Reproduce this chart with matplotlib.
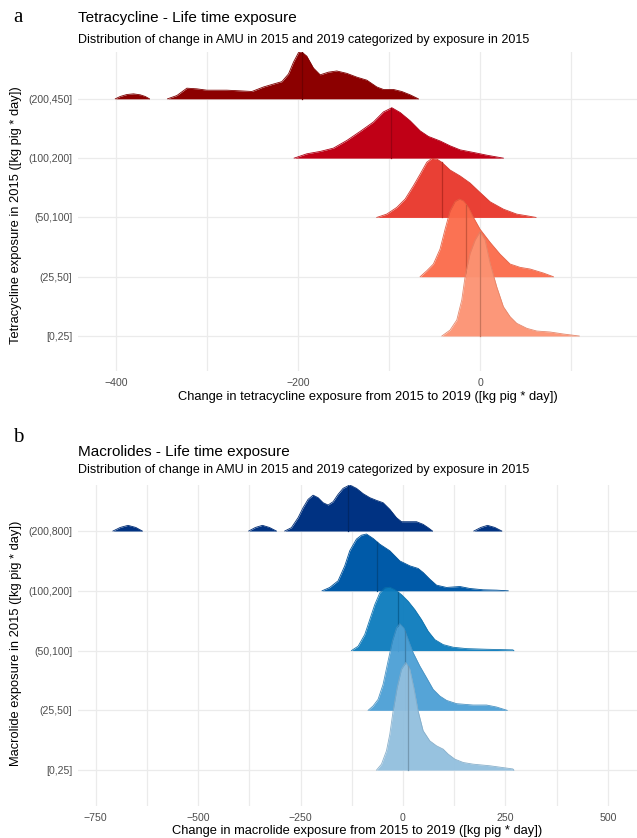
import numpy as np
import matplotlib
matplotlib.use("Agg")
import matplotlib.pyplot as plt
from matplotlib.ticker import FixedLocator

plt.rcParams['font.family'] = ['Liberation Sans', 'DejaVu Sans']

# ---------------- data: panel a (tetracycline) ----------------
tet_categories = ["[0,25]", "(25,50]", "(50,100]", "(100,200]", "(200,450]"]
tet_colors = ["#fc9272", "#fb6a4a", "#e8362a", "#c00016", "#8c0000"]

# ridge outlines: x = change, h = scaled density (NaN separates pieces)
tet_x_0_25 = [-42, -33, -25.6, -20.1, -16.5, -11, -5.5, 0, 5.5, 11, 18.3, 25.6, 33, 40.3, 51.3, 62.3, 76.9, 91.5, 109]
tet_h_0_25 = [0, .10, .27, .61, 1.0, 1.395, 1.62, 1.76, 1.62, 1.23, .83, .495, .326, .214, .13, .084, .068, .034, 0]
tet_x_25_50 = [-65.9, -58.6, -51.3, -44, -38.5, -33, -27.5, -22.7, -18.3, -12.8, -7.3, 0, 11, 22, 33, 44, 55, 69.6, 80.6]
tet_h_25_50 = [0, .10, .214, .467, .80, 1.11, 1.27, 1.31, 1.28, 1.17, 1.0, .80, .58, .38, .214, .158, .13, .062, 0]
tet_x_50_100 = [-113.6, -102.6, -91.6, -82.4, -73.3, -65.9, -58.6, -53.1, -47.6, -42.1, -33, -22, -11, 0, 11, 25.6, 40.3, 51.3, 61.5]
tet_h_50_100 = [0, .056, .169, .31, .534, .73, .93, .996, .985, .93, .80, .70, .58, .42, .264, .14, .056, .028, 0]
tet_x_100_200 = [-204.4, -190.5, -175.8, -161.2, -146.5, -131.9, -117.2, -106.2, -97, -87.9, -76.9, -65.9, -56.8, -44, -33, -22, -7.3, 7.3, 25.6]
tet_h_100_200 = [0, .073, .113, .169, .298, .45, .61, .78, .85, .77, .63, .46, .366, .29, .208, .14, .096, .05, 0]
tet_x_200_450 = [-401, -395.6, -388.3, -381, -373.6, -368.1, -363.4, np.nan,
                 -343.6, -333.3, -322.3, -311.4, -300.4, -278.4, -263.7, -250.9, -238.1, -227.1, -217.9,
                 -210.6, -205.1, -199.6, -196, -190.5, -183.2, -175.8, -166.7, -157.5, -146.5, -135.5,
                 -124.5, -113.5, -106.2, -95.2, -86.1, -76.9, -67.8]
tet_h_200_450 = [0, .04, .073, .084, .068, .04, 0, np.nan,
                 0, .056, .18, .169, .146, .146, .135, .124, .2, .25, .29,
                 .42, .62, .78, .79, .72, .52, .405, .45, .47, .43, .366,
                 .315, .2, .158, .158, .124, .068, 0]
tet_medians = [0, -15, -42, -98, -196]
tet_xticks = [-400, -200, 0]

# ---------------- data: panel b (macrolides) ----------------
mac_categories = ["[0,25]", "(25,50]", "(50,100]", "(100,200]", "(200,800]"]
mac_colors = ["#92bfde", "#4c9fd5", "#0b7bbd", "#005aa8", "#003282"]

mac_x_0_25 = [-64.7, -52.5, -40.3, -32.2, -24.1, -14.3, -3.7, 6.8, 16.6, 26.4, 36.9, 49.1, 65.4, 81.7, 98, 110.2, 126.5, 146.8, 171.1, 211.9, 268, 270.5]
mac_h_0_25 = [0, .10, .324, .60, .99, 1.38, 1.69, 1.80, 1.69, 1.38, .99, .66, .49, .407, .351, .268, .184, .128, .10, .073, .02, 0]
mac_x_25_50 = [-85.1, -73, -60.8, -48.6, -36.4, -25.8, -15.9, -7.8, 1.9, 12.5, 24.7, 41, 57.4, 73.6, 89.8, 106.2, 130.6, 171.1, 203.9, 228.3, 254.2]
mac_h_25_50 = [0, .073, .184, .435, .826, 1.16, 1.38, 1.45, 1.38, 1.19, .965, .742, .547, .351, .24, .167, .112, .089, .089, .056, 0]
mac_x_50_100 = [-125.8, -109.5, -93.3, -81, -68.8, -56.6, -44.4, -32.2, -20, -3.7, 12.5, 28.8, 45.1, 61.4, 77.6, 98, 122.4, 155, 203.9, 268, 270.5]
mac_h_50_100 = [0, .073, .268, .52, .77, .965, 1.05, 1.06, 1.02, .937, .826, .686, .519, .324, .184, .10, .056, .033, .022, .012, 0]
mac_x_100_200 = [-197.4, -178.7, -158.4, -142.1, -129.9, -113.6, -101.4, -89.2, -72.9, -56.6, -32.2, -7.8, 16.6, 36.9, 49.1, 65.4, 81.7, 106.2, 138.7, 163.1, 195.6, 228.2, 256.7]
mac_h_100_200 = [0, .056, .167, .418, .67, .865, .93, .95, .876, .78, .67, .50, .418, .374, .307, .195, .095, .056, .072, .039, .017, .011, 0]
mac_x_200_800 = [-707.7, -690, -671, -652, -636, np.nan,
                 -376.5, -360, -343, -326, -308.9, np.nan,
                 -288.6, -272.3, -256, -243.8, -231.6, -219.4, -207.2, -195, -182.8, -170.6, -158.4, -146.2,
                 -130, -113.5, -97.3, -81, -64.7, -48.6, -32.2, -15.9, -3.7, 33, 49.1, 61.3, 72, np.nan,
                 172.9, 190, 206.2, 224, 241.2]
mac_h_200_800 = [0, .06, .095, .06, 0, np.nan,
                 0, .06, .095, .06, 0, np.nan,
                 0, .056, .223, .39, .53, .60, .558, .474, .435, .49, .614, .714,
                 .77, .714, .625, .558, .513, .474, .363, .223, .156, .156, .112, .056, 0, np.nan,
                 0, .06, .095, .06, 0]
mac_medians = [12.5, 4.4, -12, -63, -134]
mac_xticks = [-750, -500, -250, 0, 250, 500]

tet_series = [(tet_x_0_25, tet_h_0_25), (tet_x_25_50, tet_h_25_50), (tet_x_50_100, tet_h_50_100),
              (tet_x_100_200, tet_h_100_200), (tet_x_200_450, tet_h_200_450)]
mac_series = [(mac_x_0_25, mac_h_0_25), (mac_x_25_50, mac_h_25_50), (mac_x_50_100, mac_h_50_100),
              (mac_x_100_200, mac_h_100_200), (mac_x_200_800, mac_h_200_800)]


def darker(c, f=0.8):
    r, g, b = matplotlib.colors.to_rgb(c)
    return (r * f, g * f, b * f)


def pieces(x, h):
    x = np.asarray(x, float)
    h = np.asarray(h, float)
    out, cur = [], []
    for xi, hi in zip(x, h):
        if np.isnan(xi):
            if cur:
                out.append(np.array(cur))
            cur = []
        else:
            cur.append((xi, hi))
    if cur:
        out.append(np.array(cur))
    return out


def draw_panel(ax, series, colors, medians, cats, xticks, minor, xlim, ylim, alpha):
    ax.set_xlim(*xlim)
    ax.set_ylim(*ylim)
    for s in ax.spines.values():
        s.set_visible(False)
    ax.set_yticks(range(1, len(cats) + 1))
    ax.set_yticklabels(cats)
    ax.xaxis.set_major_locator(FixedLocator(xticks))
    ax.xaxis.set_minor_locator(FixedLocator(minor))
    ax.tick_params(axis='both', which='both', length=0, labelsize=7.6, colors='#4d4d4d')
    ax.tick_params(axis='y', pad=4)
    ax.tick_params(axis='x', pad=5)
    ax.grid(True, which='major', color='#ebebeb', linewidth=0.9)
    ax.grid(True, which='minor', axis='x', color='#ebebeb', linewidth=0.9)
    ax.set_axisbelow(True)
    n = len(series)
    for i in range(n - 1, -1, -1):
        base = i + 1
        x, h = series[i]
        col = colors[i]
        z = 10 + (n - i) * 2
        for p in pieces(x, h):
            ax.fill_between(p[:, 0], base, base + p[:, 1], color=col, alpha=alpha[i],
                            linewidth=0, zorder=z)
            ax.plot(p[:, 0], base + p[:, 1], color=darker(col, 0.9), lw=0.6, zorder=z + 0.5,
                    alpha=alpha[i])
        m = medians[i]
        hm = np.interp(m, *[np.asarray(v, float)[~np.isnan(np.asarray(v, float))] for v in (x, h)])
        ax.plot([m, m], [base, base + hm], color=darker(col, 0.8), lw=0.9, zorder=z + 0.6)


W, H = 637, 838
fig = plt.figure(figsize=(W / 100, H / 100), dpi=100)


def ax_rect(x0, y0, x1, y1):
    return [x0 / W, 1 - y1 / H, (x1 - x0) / W, (y1 - y0) / H]


ax1 = fig.add_axes(ax_rect(78, 52, 637, 371))
draw_panel(ax1, tet_series, tet_colors, tet_medians, tet_categories, tet_xticks,
           [-300, -100, 100], (-442, 172.5), (0.41, 5.79), [0.95, 0.95, 0.95, 1, 1])
ax2 = fig.add_axes(ax_rect(78, 485, 637, 806))
draw_panel(ax2, mac_series, mac_colors, mac_medians, mac_categories, mac_xticks,
           [-625, -375, -125, 125, 375], (-793, 571), (0.40, 5.77), [0.95, 0.95, 0.95, 1, 1])

# titles and labels
def ftext(x, y, s, **kw):
    fig.text(x / W, 1 - y / H, s, **kw)

ftext(18, 17, "a", fontsize=15, family=['Liberation Serif'], va='center', ha='center')
ftext(78, 18, "Tetracycline - Life time exposure", fontsize=11, va='center')
ftext(78, 40, "Distribution of change in AMU in 2015 and 2019 categorized by exposure in 2015",
      fontsize=9.0, va='center')
ftext(368, 397, "Change in tetracycline exposure from 2015 to 2019 ([kg pig * day])",
      fontsize=9.3, va='center', ha='center')
ftext(16, 215, "Tetracycline exposure in 2015 ([kg pig * day])", fontsize=9.3,
      va='center', ha='center', rotation=90)

ftext(18, 437, "b", fontsize=15, family=['Liberation Serif'], va='center', ha='center')
ftext(78, 452, "Macrolides - Life time exposure", fontsize=11, va='center')
ftext(78, 470, "Distribution of change in AMU in 2015 and 2019 categorized by exposure in 2015",
      fontsize=9.0, va='center')
ftext(357, 831, "Change in macrolide exposure from 2015 to 2019 ([kg pig * day])",
      fontsize=9.3, va='center', ha='center')
ftext(16, 643, "Macrolide exposure in 2015 ([kg pig * day])", fontsize=9.3,
      va='center', ha='center', rotation=90)

fig.savefig("out.png", dpi=100, facecolor='white')
